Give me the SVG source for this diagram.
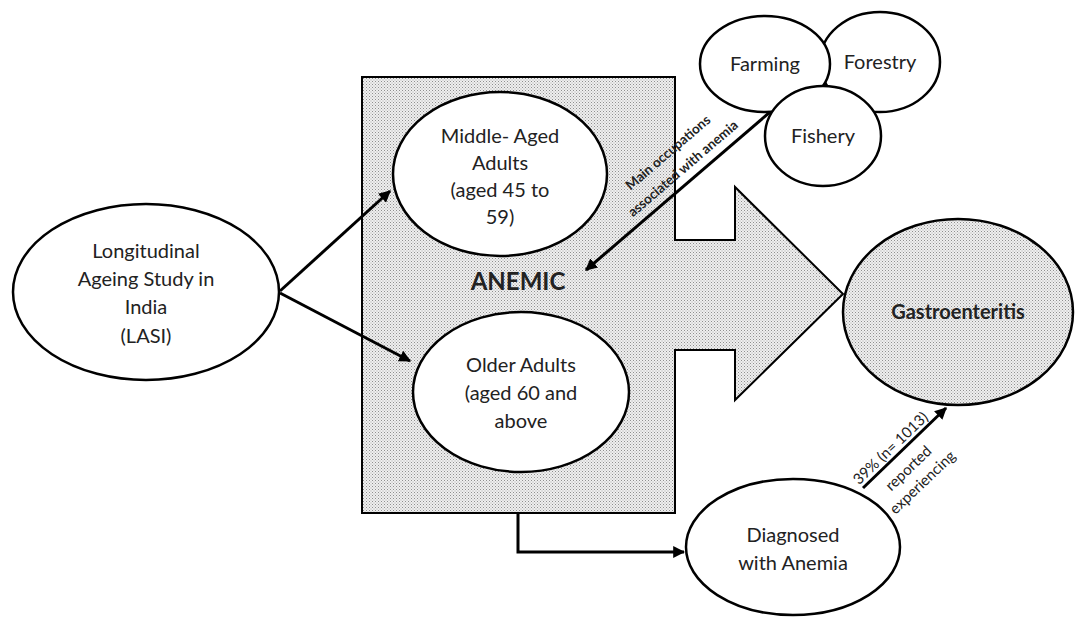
<svg xmlns="http://www.w3.org/2000/svg" width="1084" height="627" viewBox="0 0 1084 627">
<defs>
<pattern id="dots" width="3" height="3" patternUnits="userSpaceOnUse">
<rect width="3" height="3" fill="#efefef"/>
<rect x="0" y="0" width="1" height="1" fill="#8f8f8f"/>
<rect x="1.5" y="1.5" width="1" height="1" fill="#a8a8a8"/>
</pattern>
<marker id="ah" viewBox="0 0 10 10" refX="9" refY="5" markerWidth="4" markerHeight="4" orient="auto-start-reverse" markerUnits="strokeWidth">
<path d="M0,0 L10,5 L0,10 Z" fill="#000"/>
</marker>
</defs>
<style>
.node{fill:#fff;stroke:#000;stroke-width:2.5}
.t{font-family:Lato,"Open Sans",sans-serif;font-size:20px;fill:#222;text-anchor:middle}
.b{font-weight:bold}
.conn{stroke:#000;stroke-width:3;fill:none}
.lbl{font-family:Lato,"Open Sans",sans-serif;font-size:14px;fill:#222;text-anchor:middle}
</style>
<rect width="1084" height="627" fill="#fff"/>
<g id="anemic-block">
<polygon points="362,77 675,77 675,240 735,240 735,187 843,294 735,400 735,350 675,350 675,513 362,513" fill="url(#dots)" stroke="#000" stroke-width="2"/>
</g>
<g id="gastro">
<ellipse cx="958" cy="312" rx="115" ry="93" fill="url(#dots)" stroke="#000" stroke-width="2.5"/>
<text class="t b" x="958" y="319" style="font-size:20px">Gastroenteritis</text>
</g>
<g id="forestry">
<ellipse class="node" cx="880" cy="62" rx="60" ry="50"/>
<text class="t" x="880" y="69">Forestry</text>
</g>
<g id="farming">
<ellipse class="node" cx="765" cy="64" rx="65" ry="48"/>
<text class="t" x="765" y="71">Farming</text>
</g>
<g id="fishery">
<ellipse class="node" cx="823" cy="136" rx="58" ry="50"/>
<text class="t" x="823" y="143">Fishery</text>
</g>
<g id="lasi">
<ellipse class="node" cx="146" cy="292" rx="133" ry="88"/>
<text class="t" x="146" y="258">Longitudinal</text>
<text class="t" x="146" y="286">Ageing Study in</text>
<text class="t" x="146" y="314">India</text>
<text class="t" x="146" y="343">(LASI)</text>
</g>
<g id="middle-aged">
<ellipse class="node" cx="500" cy="174" rx="107" ry="82"/>
<text class="t" x="500" y="143">Middle- Aged</text>
<text class="t" x="500" y="170">Adults</text>
<text class="t" x="500" y="197">(aged 45 to</text>
<text class="t" x="500" y="224">59)</text>
</g>
<g id="anemic-label">
<text class="t b" x="518" y="290" style="font-size:24px">ANEMIC</text>
</g>
<g id="older">
<ellipse class="node" cx="521" cy="392" rx="108" ry="80"/>
<text class="t" x="521" y="372">Older Adults</text>
<text class="t" x="521" y="400">(aged 60 and</text>
<text class="t" x="521" y="428">above</text>
</g>
<g id="diagnosed">
<ellipse class="node" cx="793" cy="547" rx="107" ry="68"/>
<text class="t" x="793" y="542">Diagnosed</text>
<text class="t" x="793" y="570">with Anemia</text>
</g>
<g id="connectors">
<line class="conn" x1="280" y1="291" x2="390" y2="191" marker-end="url(#ah)"/>
<line class="conn" x1="280" y1="293" x2="410" y2="361" marker-end="url(#ah)"/>
<line class="conn" x1="770" y1="112" x2="586" y2="270" marker-end="url(#ah)"/>
<polyline class="conn" points="518,513 518,552 684,552" marker-end="url(#ah)"/>
<line class="conn" x1="863" y1="488" x2="946" y2="408" marker-end="url(#ah)"/>
<text class="lbl b" transform="translate(671,156) rotate(-40.6)" style="font-size:13.5px">Main occupations</text>
<text class="lbl b" transform="translate(686,172) rotate(-40.6)" style="font-size:13.5px">associated with anemia</text>
<text class="lbl" transform="translate(894,452) rotate(-43.6)" style="font-size:15px">39% (n= 1013)</text>
<text class="lbl" transform="translate(912,472) rotate(-43.6)" style="font-size:15px">reported</text>
<text class="lbl" transform="translate(926,486) rotate(-43.6)" style="font-size:15px">experiencing</text>
</g>
</svg>
